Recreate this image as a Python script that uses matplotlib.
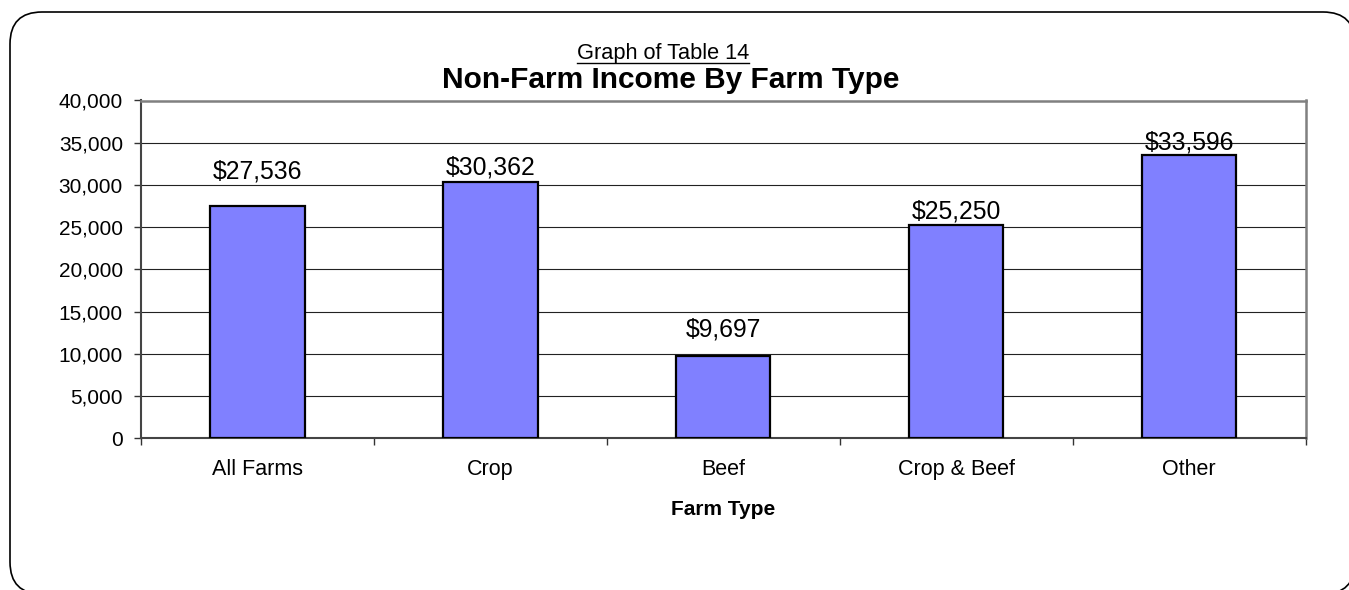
import matplotlib
matplotlib.use('Agg')
import matplotlib.pyplot as plt
from matplotlib.patches import FancyBboxPatch
from matplotlib.lines import Line2D
from matplotlib.ticker import FuncFormatter

# Data
farm_types = ['All Farms', 'Crop', 'Beef', 'Crop & Beef', 'Other']
non_farm_income = [27536, 30362, 9697, 25250, 33596]
y_ticks = [0, 5000, 10000, 15000, 20000, 25000, 30000, 35000, 40000]

# gap (points) between bar top and its value label, as placed in the original
label_gap_pt = [19.5, 5, 14.5, 5, 3.6]

plt.rcParams['font.family'] = ['Liberation Sans', 'DejaVu Sans']

W, H = 1349, 590
fig = plt.figure(figsize=(W / 100, H / 100), dpi=100)

# rounded frame around the whole chart (pixel coordinates)
bg = fig.add_axes([0, 0, 1, 1], zorder=0)
bg.set_xlim(0, W)
bg.set_ylim(H, 0)
bg.axis('off')
bg.add_patch(FancyBboxPatch((10, 12), 1345, 582,
                            boxstyle='round,pad=0,rounding_size=32',
                            facecolor='white', edgecolor='black', linewidth=1.2))

left, right, top, bottom = 141, 1305.5, 100.5, 438.3
ax = fig.add_axes([left / W, 1 - bottom / H, (right - left) / W, (bottom - top) / H], zorder=1)
ax.set_facecolor('white')

x = list(range(len(farm_types)))
ax.bar(x, non_farm_income, width=0.405, color='#8080FF',
       edgecolor='black', linewidth=1.6, zorder=3)

for xi, v, gap in zip(x, non_farm_income, label_gap_pt):
    ax.annotate(f'${v:,.0f}', (xi, v), xytext=(0, gap), textcoords='offset points',
                ha='center', va='baseline', fontsize=17.8, zorder=4)

ax.set_xlim(-0.5, len(farm_types) - 0.5)
ax.set_ylim(0, 40000)
ax.set_yticks(y_ticks)
ax.yaxis.set_major_formatter(FuncFormatter(lambda v, p: f'{v:,.0f}'))
ax.tick_params(axis='y', direction='out', length=5, width=1, pad=8,
               labelsize=15, color='#333333')

# ticks at category boundaries, labels at category centres
ax.set_xticks([i - 0.5 for i in range(len(farm_types) + 1)])
ax.set_xticklabels([])
ax.set_xticks(x, minor=True)
ax.set_xticklabels(farm_types, minor=True)
ax.tick_params(axis='x', which='major', direction='out', length=5, width=1, color='#333333')
ax.tick_params(axis='x', which='minor', length=0, pad=15, labelsize=15.5)

ax.grid(axis='y', color='#222222', linewidth=0.8, zorder=0)
ax.set_axisbelow(True)

for side in ['left', 'bottom']:
    ax.spines[side].set_color('#444444')
    ax.spines[side].set_linewidth(1.5)
for side in ['top', 'right']:
    ax.spines[side].set_color('#808080')
    ax.spines[side].set_linewidth(1.8)

ax.set_xlabel('Farm Type', fontsize=15, fontweight='bold', labelpad=14)

# titles
sub = fig.text(0.4915, 1 - 59.5 / H, 'Graph of Table 14', ha='center', va='baseline', fontsize=15.7)
fig.text(0.4975, 1 - 88.5 / H, 'Non-Farm Income By Farm Type', ha='center', va='baseline',
         fontsize=21.5, fontweight='bold')

# underline the subtitle
renderer = fig.canvas.get_renderer()
bb = sub.get_window_extent(renderer=renderer)
uy = (H - 62.5) / H
fig.add_artist(Line2D([bb.x0 / W, bb.x1 / W], [uy, uy], color='black', linewidth=1.0))

fig.savefig('out.png', dpi=100)
